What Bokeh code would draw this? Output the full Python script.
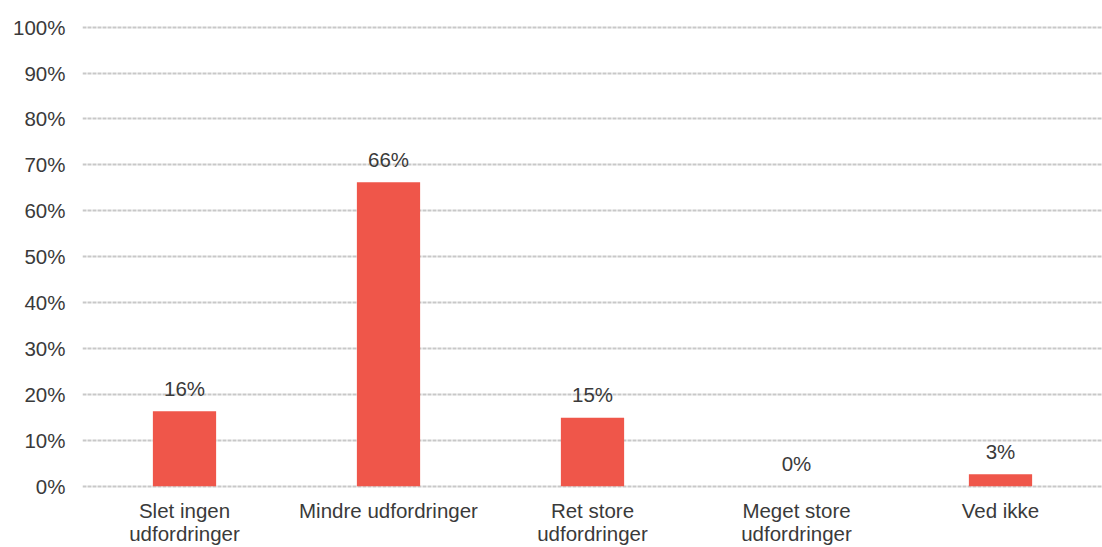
from bokeh.plotting import figure
from bokeh.models import (ColumnDataSource, FactorRange, Range1d, FixedTicker, LabelSet,
                          CategoricalAxis, CustomJSTickFormatter)
from bokeh.embed import file_html
from bokeh.resources import INLINE
from bokeh.core.properties import value

categories = ["Slet ingen udfordringer", "Mindre udfordringer", "Ret store udfordringer",
              "Meget store udfordringer", "Ved ikke"]
tick_line1 = ["Slet ingen", "Mindre udfordringer", "Ret store", "Meget store", "Ved ikke"]
tick_line2 = ["udfordringer", "", "udfordringer", "udfordringer", ""]
shares = [16.3, 66.2, 14.9, 0.0, 2.6]
y_ticks = [0, 10, 20, 30, 40, 50, 60, 70, 80, 90, 100]

FONT = "Liberation Sans"
TEXT = "#3A3A3A"
FS = "20.5px"

src = ColumnDataSource(dict(
    cat=categories,
    share=shares,
    label=[f"{round(v)}%" for v in shares],
))

p = figure(
    x_range=FactorRange(*categories, range_padding=0),
    y_range=Range1d(-0.5, 101),
    width=1102, height=547,
    output_backend="svg", toolbar_location=None,
    min_border_left=82, min_border_right=0, min_border_top=22, min_border_bottom=55,
)
p.outline_line_color = None
p.background_fill_color = "white"

p.ygrid.ticker = FixedTicker(ticks=y_ticks)
p.ygrid.grid_line_color = "#C8C8C8"
p.ygrid.grid_line_width = 1.8
p.ygrid.grid_line_dash = "4 1"
p.xgrid.grid_line_color = None

p.vbar(x="cat", bottom=0, top="share", width=0.31, source=src, fill_color="#EF564A", line_color=None)

labels = LabelSet(x="cat", y="share", text="label", source=src, text_align="center",
                  text_baseline="middle", y_offset=23, text_font=value(FONT),
                  text_font_size=FS, text_color=TEXT)
p.add_layout(labels)

p.yaxis.ticker = FixedTicker(ticks=y_ticks)
p.yaxis.major_label_overrides = {t: f"{t}%" for t in y_ticks}

js = "const m = labels; return (tick in m) ? m[tick] : tick;"
p.xaxis[0].formatter = CustomJSTickFormatter(args=dict(labels=dict(zip(categories, tick_line1))), code=js)

x2 = CategoricalAxis(formatter=CustomJSTickFormatter(args=dict(labels=dict(zip(categories, tick_line2))), code=js))
p.add_layout(x2, "below")

for ax in (p.xaxis[0], p.yaxis[0], x2):
    ax.axis_line_color = None
    ax.major_tick_line_color = None
    ax.minor_tick_line_color = None
    ax.major_tick_out = 0
    ax.major_tick_in = 0
    ax.major_label_text_font = FONT
    ax.major_label_text_font_size = FS
    ax.major_label_text_color = TEXT
p.yaxis.major_label_standoff = 17
p.xaxis[0].major_label_standoff = 10
x2.major_label_standoff = -3

open("out.html", "w").write(file_html(p, INLINE))
